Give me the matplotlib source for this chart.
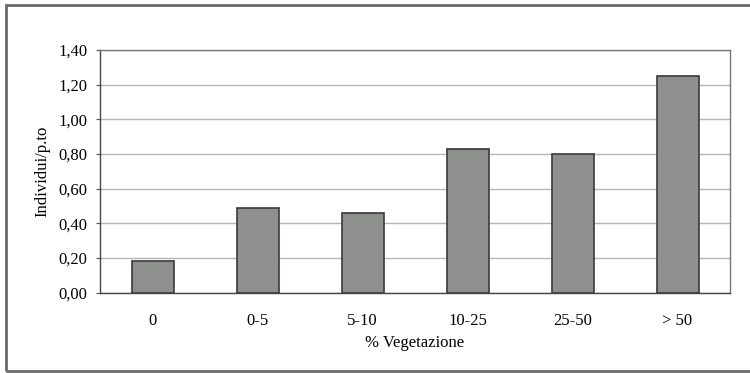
import matplotlib
matplotlib.use("Agg")
import matplotlib.pyplot as plt
from matplotlib.patches import Rectangle

categories = ["0", "0-5", "5-10", "10-25", "25-50", "> 50"]
values = [0.18, 0.49, 0.46, 0.83, 0.80, 1.25]
yticks = [0.0, 0.2, 0.4, 0.6, 0.8, 1.0, 1.2, 1.4]

plt.rcParams["font.family"] = ["Liberation Serif", "DejaVu Serif"]

fig = plt.figure(figsize=(7.5, 3.73), dpi=100)
ax = fig.add_axes([100 / 750, 1 - 292.5 / 373, 630 / 750, 242.5 / 373])

x = range(len(categories))
ax.bar(x, values, width=0.4, color="#8e908e", edgecolor="#3a3a3a", linewidth=1.2, zorder=3)

ax.set_xlim(-0.5, len(categories) - 0.5)
ax.set_ylim(0, 1.4)
ax.set_yticks(yticks)
ax.set_yticklabels([f"{v:.2f}".replace(".", ",") for v in yticks])
ax.set_xticks(list(x))
ax.set_xticklabels(categories)
ax.yaxis.grid(True, color="#b5b5b5", linewidth=1.0, zorder=0)
ax.tick_params(axis="y", length=3, width=0.8, color="#555555", labelsize=12, pad=6)
ax.tick_params(axis="x", length=0, labelsize=12, pad=15)
for s in ax.spines.values():
    s.set_color("#777777")
    s.set_linewidth(1.0)
ax.spines["left"].set_color("#444444")
ax.spines["bottom"].set_color("#444444")

ax.set_ylabel("Individui/p.to", fontsize=12, labelpad=6)
ax.set_xlabel("% Vegetazione", fontsize=12, labelpad=4)

# outer frame of the chart
fig.patches.append(Rectangle((6 / 750, 2 / 373), 750 / 750, 366 / 373, transform=fig.transFigure,
                             fill=False, edgecolor="#6a6a6a", linewidth=2.0))

fig.savefig("out.png", dpi=100)
